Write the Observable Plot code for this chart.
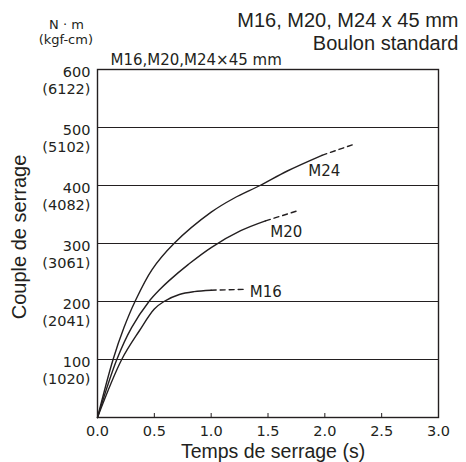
<!DOCTYPE html>
<html>
<head>
<meta charset="utf-8">
<script src="https://cdn.jsdelivr.net/npm/d3@7"></script>
<script src="https://cdn.jsdelivr.net/npm/@observablehq/plot@0.6"></script>
<style>
  html, body { margin: 0; padding: 0; background: #fff; }
</style>
</head>
<body>
<div id="chart"></div>
<script>
// ---- Data ----
const m24Time   = [0, 0.137, 0.233, 0.33, 0.48, 0.673, 1.0, 1.2, 1.43, 1.67, 1.975];
const m24Torque = [0, 100, 155, 200, 255, 300, 354, 378, 400, 425, 452];
const m24DashTime   = [1.975, 2.27];
const m24DashTorque = [452, 472];

const m20Time   = [0, 0.17, 0.30, 0.453, 0.55, 0.63, 0.8, 1.0, 1.26, 1.478];
const m20Torque = [0, 100, 155, 200, 221, 236, 264, 293, 322, 339];
const m20DashTime   = [1.478, 1.77];
const m20DashTorque = [339, 357];

const m16Time   = [0, 0.213, 0.37, 0.5, 0.585, 0.72, 0.85, 1.0];
const m16Torque = [0, 100, 150, 187, 200, 212, 217, 219.5];
const m16DashTime   = [1.0, 1.3];
const m16DashTorque = [219.5, 221];

const curveNames  = ["M24", "M20", "M16"];
const labelTime   = [1.855, 1.52, 1.34];
const labelTorque = [424, 319, 215.5];

const yTickNm  = [100, 200, 300, 400, 500, 600];
const yTickKgf = ["(1020)", "(2041)", "(3061)", "(4082)", "(5102)", "(6122)"];
const gridTorque = [100, 200, 300, 400, 500];
const xTickValues = [0, 0.5, 1, 1.5, 2, 2.5, 3];
const xInnerTicks = [0.5, 1, 1.5, 2, 2.5];

const titleLines = ["M16, M20, M24 x 45 mm", "Boulon standard"];
const unitLines = ["N · m", "(kgf-cm)"];
const subtitle = "M16,M20,M24×45 mm";
const xLabel = "Temps de serrage (s)";
const yLabel = "Couple de serrage";

// ---- Build tables ----
const zip = (t, v) => t.map((d, i) => ({t: d, v: v[i]}));
const solid = [zip(m24Time, m24Torque), zip(m20Time, m20Torque), zip(m16Time, m16Torque)];
const dashed = [zip(m24DashTime, m24DashTorque), zip(m20DashTime, m20DashTorque), zip(m16DashTime, m16DashTorque)];
const labels = curveNames.map((n, i) => ({name: n, t: labelTime[i], v: labelTorque[i]}));
const yTicks = yTickNm.map((v, i) => ({v, nm: String(v), kgf: yTickKgf[i]}));

const ink = "#231f20";
const sans = "Liberation Sans, Arial, sans-serif";
const jp = "DejaVu Sans, sans-serif";

const note = (txt, o) => Plot.text([txt], {lineAnchor: "middle", fill: ink, ...o});

const chart = Plot.plot({
  width: 466,
  height: 462,
  marginLeft: 97,
  marginRight: 28,
  marginTop: 69,
  marginBottom: 45,
  x: {domain: [0, 3]},
  y: {domain: [0, 600], axis: null},
  style: {fontFamily: jp, fontSize: "15px", color: ink, background: "#fff"},
  marks: [
    Plot.ruleY(gridTorque, {stroke: ink, strokeWidth: 1.2}),
    ...solid.map(s => Plot.line(s, {x: "t", y: "v", curve: "catmull-rom", stroke: ink, strokeWidth: 1.4})),
    ...dashed.map(s => Plot.line(s, {x: "t", y: "v", stroke: ink, strokeWidth: 1.4, strokeDasharray: "5,4"})),
    Plot.text(labels, {x: "t", y: "v", text: "name", textAnchor: "start", fontFamily: jp, fontSize: 15, fill: ink}),
    Plot.frame({stroke: ink, strokeWidth: 1.4}),
    Plot.axisX(xTickValues, {tickSize: 0, tickPadding: 8, tickFormat: d3.format(".1f"), label: null, fontFamily: jp, fontSize: 14.5, fill: ink}),
    Plot.axisX(xInnerTicks, {tickSize: 4, dy: -4, tickFormat: () => "", label: null, stroke: ink}),
    Plot.text(yTicks, {y: "v", text: "nm", frameAnchor: "left", dx: -7, dy: 3, textAnchor: "end", lineAnchor: "middle", fontFamily: jp, fontSize: 14.5, fill: ink}),
    Plot.text(yTicks, {y: "v", text: "kgf", frameAnchor: "left", dx: -7, dy: 19.5, textAnchor: "end", lineAnchor: "middle", fontFamily: jp, fontSize: 14.5, fill: ink}),
    note(yLabel, {frameAnchor: "left", rotate: -90, textAnchor: "middle", dx: -78.4, dy: -6.5, fontFamily: sans, fontSize: 20}),
    note(xLabel, {frameAnchor: "bottom", textAnchor: "middle", dx: 5, dy: 34.5, fontFamily: sans, fontSize: 19.5}),
    note(titleLines[0], {frameAnchor: "top-right", textAnchor: "end", dx: 20, dy: -48.7, fontFamily: sans, fontSize: 20}),
    note(titleLines[1], {frameAnchor: "top-right", textAnchor: "end", dx: 20, dy: -26.1, fontFamily: sans, fontSize: 20}),
    note(unitLines[0], {frameAnchor: "top-left", textAnchor: "middle", dx: -31, dy: -44.2, fontFamily: jp, fontSize: 13}),
    note(unitLines[1], {frameAnchor: "top-left", textAnchor: "middle", dx: -31.7, dy: -29.9, fontFamily: jp, fontSize: 13}),
    note(subtitle, {frameAnchor: "top-left", textAnchor: "start", dx: 13, dy: -9.5, fontFamily: jp, fontSize: 15})
  ]
});
document.getElementById("chart").appendChild(chart);
</script>
</body>
</html>
